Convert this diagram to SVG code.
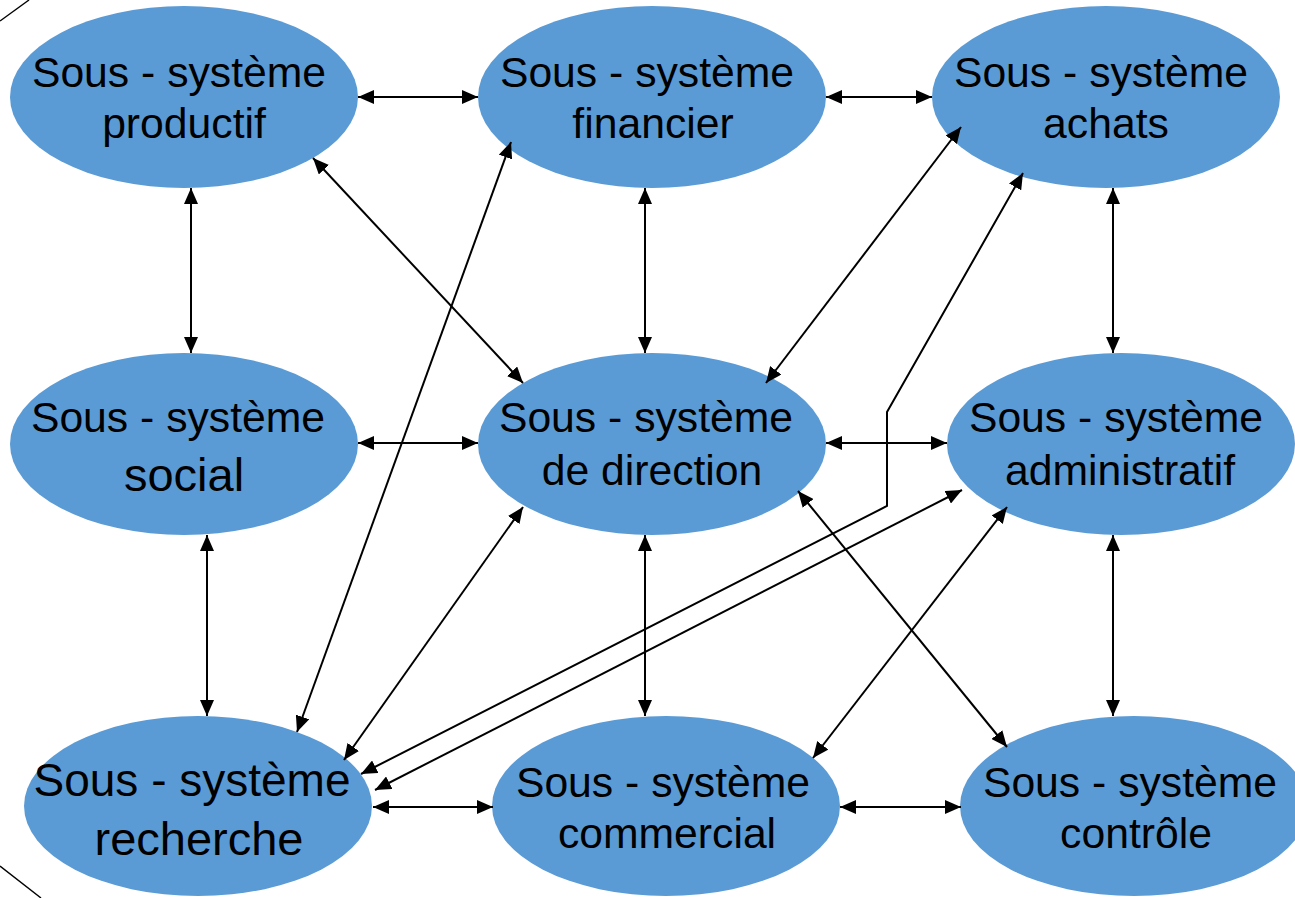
<svg xmlns="http://www.w3.org/2000/svg" width="1295" height="898" viewBox="0 0 1295 898">
  <style>
    .node { fill: #5B9BD5; }
    .lbl { font-family: "Liberation Sans", Arial, sans-serif; font-size: 42.7px; fill: #000; text-anchor: middle; }
    .big { font-size: 46px; }
    .link { fill: none; stroke: #000; stroke-width: 2; marker-start: url(#head); marker-end: url(#head); }
    .edge { fill: none; stroke: #000; stroke-width: 1.4; }
  </style>
  <defs>
    <marker id="head" viewBox="0 0 16 14" refX="16" refY="7" markerWidth="16" markerHeight="14" markerUnits="userSpaceOnUse" orient="auto-start-reverse">
      <path d="M0,0 L16,7 L0,14 z" fill="#000"/>
    </marker>
  </defs>
  <rect width="1295" height="898" fill="#fff"/>

  <!-- outer frame fragments -->
  <path class="edge" d="M0,21 L29,0"/>
  <path class="edge" d="M0,866 L41,898"/>

  <!-- nodes -->
  <g id="productif">
    <ellipse class="node" cx="184" cy="97" rx="174" ry="91"/>
    <text class="lbl" x="179" y="87">Sous - système</text>
    <text class="lbl" x="184" y="138">productif</text>
  </g>
  <g id="financier">
    <ellipse class="node" cx="652" cy="97" rx="174" ry="91"/>
    <text class="lbl" x="647" y="87">Sous - système</text>
    <text class="lbl" x="653" y="138">financier</text>
  </g>
  <g id="achats">
    <ellipse class="node" cx="1106" cy="97" rx="174" ry="91"/>
    <text class="lbl" x="1101" y="87">Sous - système</text>
    <text class="lbl" x="1106" y="138">achats</text>
  </g>
  <g id="social">
    <ellipse class="node" cx="184" cy="444" rx="174" ry="91"/>
    <text class="lbl" x="178" y="432">Sous - système</text>
    <text class="lbl" x="184" y="491" style="font-size:47px">social</text>
  </g>
  <g id="direction">
    <ellipse class="node" cx="652" cy="444" rx="174" ry="91"/>
    <text class="lbl" x="646" y="432">Sous - système</text>
    <text class="lbl" x="652" y="485">de direction</text>
  </g>
  <g id="administratif">
    <ellipse class="node" cx="1121" cy="444" rx="174" ry="91"/>
    <text class="lbl" x="1116" y="432">Sous - système</text>
    <text class="lbl" x="1120" y="485">administratif</text>
  </g>
  <g id="recherche">
    <ellipse class="node" cx="198" cy="806" rx="174" ry="90"/>
    <text class="lbl big" x="192" y="796">Sous - système</text>
    <text class="lbl" x="199" y="855" style="font-size:47px">recherche</text>
  </g>
  <g id="commercial">
    <ellipse class="node" cx="666" cy="806" rx="174" ry="90"/>
    <text class="lbl" x="663" y="797">Sous - système</text>
    <text class="lbl" x="667" y="848">commercial</text>
  </g>
  <g id="controle">
    <ellipse class="node" cx="1134" cy="806" rx="174" ry="90"/>
    <text class="lbl" x="1130" y="797">Sous - système</text>
    <text class="lbl" x="1136" y="848">contrôle</text>
  </g>

  <!-- connectors -->
  <g id="connectors">
    <line class="link" x1="358" y1="97" x2="478" y2="97"/>
    <line class="link" x1="826" y1="97" x2="932" y2="97"/>
    <line class="link" x1="191" y1="188" x2="191" y2="353"/>
    <line class="link" x1="645" y1="188" x2="645" y2="353"/>
    <line class="link" x1="1113" y1="188" x2="1113" y2="353"/>
    <line class="link" x1="358" y1="443" x2="478" y2="443"/>
    <line class="link" x1="826" y1="443" x2="947" y2="443"/>
    <line class="link" x1="207" y1="535" x2="207" y2="716"/>
    <line class="link" x1="645" y1="535" x2="645" y2="716"/>
    <line class="link" x1="1113" y1="535" x2="1113" y2="716"/>
    <line class="link" x1="373" y1="807" x2="493" y2="807"/>
    <line class="link" x1="840" y1="807" x2="961" y2="807"/>
    <line class="link" x1="313" y1="158" x2="523" y2="383"/>
    <line class="link" x1="511" y1="142" x2="297" y2="732"/>
    <line class="link" x1="961" y1="127" x2="766" y2="383"/>
    <polyline class="link" points="1023,173 887,412 887,506 361,774"/>
    <line class="link" x1="962" y1="490" x2="375" y2="790"/>
    <line class="link" x1="523" y1="507" x2="344" y2="760"/>
    <line class="link" x1="798" y1="491" x2="1007" y2="747"/>
    <line class="link" x1="1007" y1="507" x2="813" y2="758"/>
  </g>
</svg>
